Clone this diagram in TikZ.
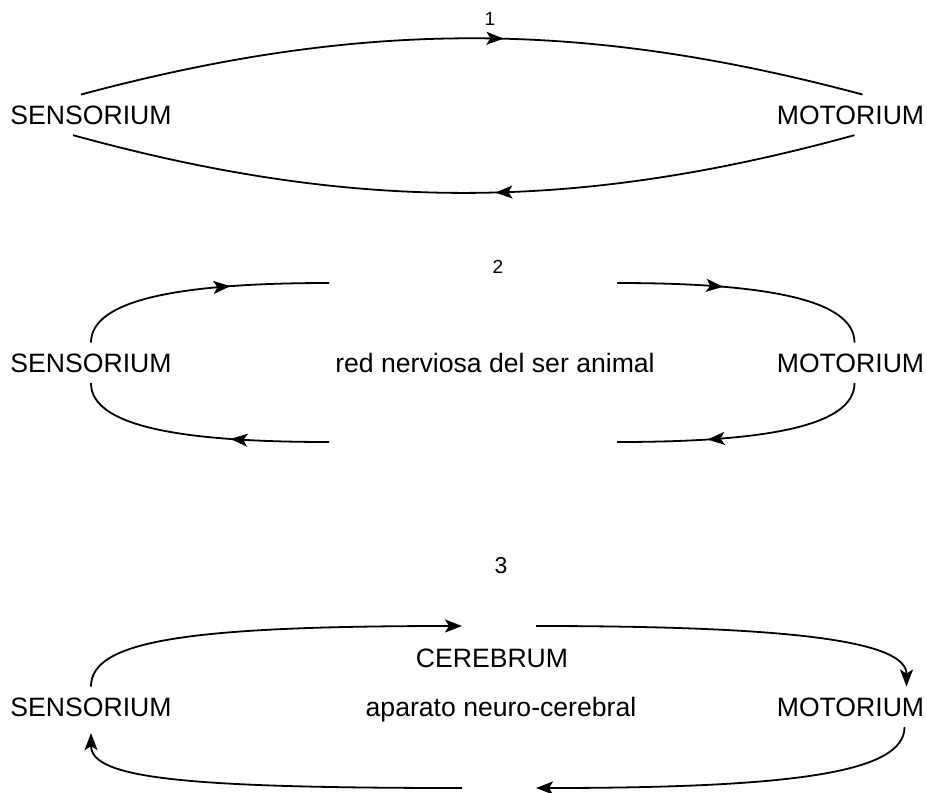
\documentclass[tikz,border=0pt]{standalone}
\usepackage{fontspec}
\setmainfont{Liberation Sans}
\usepackage{tikz}
\usetikzlibrary{arrows.meta, decorations.markings}

\tikzset{
	lbl/.style={font=\fontsize{13.3}{16}\selectfont, inner sep=5pt, anchor=base},
	numlbl/.style={font=\fontsize{9.5}{11}\selectfont, inner sep=0pt, anchor=base},
	midarrow/.style={postaction={decorate,decoration={markings,mark=at position #1 with {\arrow{>}}}}}
}

\begin{document}
\begin{tikzpicture}[x=0.5pt, y=-0.5pt, line width=0.9pt, >={Stealth[length=8.5pt,width=6.5pt,inset=2pt]}]
		\useasboundingbox (0,0) rectangle (927,793);
		\node[numlbl] (numA) at (490,25) {1};
		\node[lbl] (sensA) at (91,124) {SENSORIUM};
		\node[lbl] (motA) at (850.5,124) {MOTORIUM};
		\draw[midarrow=0.54] ([xshift=-5pt]sensA.north) .. controls +(280,-75) and +(-280,-75) .. ([xshift=6pt]motA.north);
		\draw[midarrow=0.46] ([xshift=2pt]motA.south) .. controls +(-280,77) and +(280,77) .. ([xshift=-9pt]sensA.south);

		\node[numlbl] (numB) at (498,273) {2};
		\node[lbl] (sensB) at (91,372) {SENSORIUM};
		\node[lbl] (motB) at (850.5,372) {MOTORIUM};
		\node[lbl] (redB) at (495,372) {red nerviosa del ser animal};
		\coordinate (bTL) at (329,283);
		\coordinate (bTR) at (617,283);
		\coordinate (bBL) at (329,442);
		\coordinate (bBR) at (617,442);
		\draw[midarrow=0.62] (sensB.north) .. controls +(0,-45) and +(-140,0) .. (bTL);
		\draw[midarrow=0.41] (bTR) .. controls +(140,0) and +(0,-45) .. ([xshift=2pt]motB.north);
		\draw[midarrow=0.65] ([xshift=2pt]motB.south) .. controls +(0,45) and +(140,0) .. (bBR);
		\draw[midarrow=0.38] (bBL) .. controls +(-140,0) and +(0,45) .. (sensB.south);

		\node[numlbl, font=\fontsize{11.5}{13}\selectfont] (numC) at (501,573) {3};
		\node[lbl] (cerC) at (492,667) {CEREBRUM};
		\node[lbl] (sensC) at (91,716) {SENSORIUM};
		\node[lbl] (motC) at (850.5,716) {MOTORIUM};
		\node[lbl] (apC) at (501,716) {aparato neuro-cerebral};
		\coordinate (cTL) at (462,626);
		\coordinate (cTR) at (536,626);
		\coordinate (cBL) at (462,788);
		\coordinate (cBR) at (536,788);
		\draw[->] (sensC.north) .. controls +(0,-45) and +(-280,0) .. (cTL);
		\draw[->] (cTR) .. controls +(260,0) and +(0,-45) .. ([xshift=28pt]motC.north);
		\draw[->] ([xshift=27pt]motC.south) .. controls +(0,45) and +(260,0) .. (cBR);
		\draw[->] (cBL) .. controls +(-280,0) and +(0,45) .. ([yshift=-3pt]sensC.south);
	\end{tikzpicture}
\end{document}
